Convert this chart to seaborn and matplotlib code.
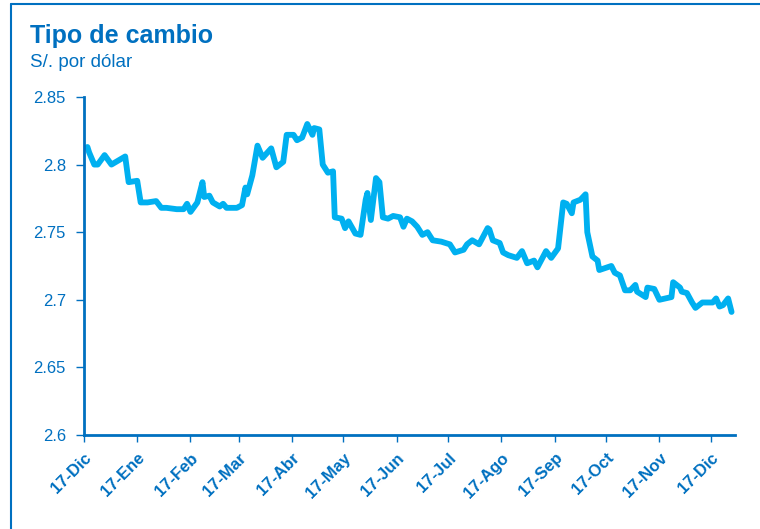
import pandas as pd
import matplotlib
matplotlib.use("Agg")
import matplotlib.pyplot as plt
import seaborn as sns
from matplotlib.lines import Line2D

# tipo de cambio
fechas = [
    "2016-12-19", "2016-12-20", "2016-12-23", "2016-12-25", "2016-12-29",
    "2017-01-02", "2017-01-06", "2017-01-10", "2017-01-12", "2017-01-17",
    "2017-01-19", "2017-01-23", "2017-01-28", "2017-01-31", "2017-02-03",
    "2017-02-09", "2017-02-13", "2017-02-15", "2017-02-17", "2017-02-21",
    "2017-02-24", "2017-02-25", "2017-02-28", "2017-03-02", "2017-03-06",
    "2017-03-08", "2017-03-10", "2017-03-16", "2017-03-19", "2017-03-21",
    "2017-03-22", "2017-03-25", "2017-03-28", "2017-03-31", "2017-04-05",
    "2017-04-08", "2017-04-12", "2017-04-14", "2017-04-18", "2017-04-20",
    "2017-04-23", "2017-04-26", "2017-04-29", "2017-04-30", "2017-05-03",
    "2017-05-05", "2017-05-08", "2017-05-11", "2017-05-12", "2017-05-16",
    "2017-05-18", "2017-05-20", "2017-05-24", "2017-05-27", "2017-05-30",
    "2017-05-31", "2017-06-02", "2017-06-05", "2017-06-07", "2017-06-09",
    "2017-06-12", "2017-06-15", "2017-06-19", "2017-06-21", "2017-06-23",
    "2017-06-26", "2017-06-29", "2017-07-02", "2017-07-05", "2017-07-08",
    "2017-07-13", "2017-07-18", "2017-07-21", "2017-07-26", "2017-07-28",
    "2017-07-31", "2017-08-04", "2017-08-09", "2017-08-10", "2017-08-12",
    "2017-08-16", "2017-08-18", "2017-08-21", "2017-08-26", "2017-08-29",
    "2017-09-01", "2017-09-05", "2017-09-07", "2017-09-12", "2017-09-15",
    "2017-09-19", "2017-09-22", "2017-09-24", "2017-09-27", "2017-09-28",
    "2017-10-02", "2017-10-05", "2017-10-06", "2017-10-09", "2017-10-12",
    "2017-10-13", "2017-10-20", "2017-10-22", "2017-10-25", "2017-10-28",
    "2017-10-31", "2017-11-03", "2017-11-04", "2017-11-09", "2017-11-10",
    "2017-11-14", "2017-11-17", "2017-11-24", "2017-11-25", "2017-11-29",
    "2017-11-30", "2017-12-03", "2017-12-06", "2017-12-08", "2017-12-12",
    "2017-12-18", "2017-12-20", "2017-12-22", "2017-12-24", "2017-12-27",
    "2017-12-29",
]
tipo_cambio = [
    2.813, 2.809, 2.800, 2.800, 2.807,
    2.800, 2.803, 2.806, 2.787, 2.788,
    2.772, 2.772, 2.773, 2.768, 2.768,
    2.767, 2.767, 2.771, 2.765, 2.772,
    2.787, 2.776, 2.777, 2.772, 2.769,
    2.771, 2.768, 2.768, 2.770, 2.783,
    2.778, 2.792, 2.814, 2.805, 2.812,
    2.798, 2.802, 2.822, 2.822, 2.818,
    2.820, 2.830, 2.822, 2.827, 2.826,
    2.800, 2.794, 2.795, 2.761, 2.760,
    2.753, 2.758, 2.749, 2.748, 2.774,
    2.779, 2.759, 2.790, 2.787, 2.761,
    2.760, 2.762, 2.761, 2.754, 2.760,
    2.758, 2.754, 2.748, 2.750, 2.744,
    2.743, 2.741, 2.735, 2.737, 2.741,
    2.744, 2.741, 2.753, 2.752, 2.744,
    2.742, 2.735, 2.733, 2.731, 2.736,
    2.727, 2.729, 2.724, 2.736, 2.731,
    2.738, 2.772, 2.771, 2.764, 2.772,
    2.774, 2.778, 2.750, 2.732, 2.729,
    2.722, 2.725, 2.720, 2.718, 2.707,
    2.707, 2.711, 2.706, 2.702, 2.709,
    2.708, 2.700, 2.702, 2.713, 2.709,
    2.706, 2.705, 2.698, 2.694, 2.698,
    2.698, 2.701, 2.695, 2.696, 2.701,
    2.691,
]
y_ticks = [2.6, 2.65, 2.7, 2.75, 2.8, 2.85]
meses = ["Dic", "Ene", "Feb", "Mar", "Abr", "May", "Jun",
         "Jul", "Ago", "Sep", "Oct", "Nov", "Dic"]

df = pd.DataFrame({"fecha": pd.to_datetime(fechas), "tc": tipo_cambio})

sns.set_style("white")
plt.rcParams["font.family"] = ["Liberation Sans", "DejaVu Sans"]

azul = "#0070C0"
celeste = "#00B0F0"

fig = plt.figure(figsize=(7.6, 5.29), dpi=100)
ax = fig.add_axes([0.1105, 0.1777, 0.8566, 0.639])

sns.lineplot(data=df, x="fecha", y="tc", ax=ax, color=celeste,
             linewidth=4.2, solid_joinstyle="round", solid_capstyle="round")

ax.set_ylim(2.6, 2.85)
ax.set_yticks(y_ticks)
ax.set_yticklabels([f"{v:g}" for v in y_ticks])
ax.set_xlim(pd.Timestamp("2016-12-17"), pd.Timestamp("2017-12-31"))
xt = pd.date_range("2016-12-01", periods=13, freq="MS") + pd.Timedelta(days=16)
ax.set_xticks(xt)
ax.set_xticklabels([f"17-{m}" for m in meses], rotation=45, ha="right",
                   rotation_mode="anchor", fontweight="bold", fontsize=12,
                   color=azul)
ax.tick_params(axis="y", colors=azul, labelsize=12, length=6, width=1,
               direction="out", pad=7, left=True)
ax.tick_params(axis="x", colors=azul, length=5, width=1, direction="out",
               pad=6, bottom=True)
ax.set_xlabel("")
ax.set_ylabel("")

for s in ["top", "right"]:
    ax.spines[s].set_visible(False)
for s in ["left", "bottom"]:
    ax.spines[s].set_color(azul)
    ax.spines[s].set_linewidth(2)

fig.text(30 / 760, 1 - 43 / 529, "Tipo de cambio", fontsize=18,
         fontweight="bold", color=azul, va="baseline")
fig.text(30 / 760, 1 - 67 / 529, "S/. por dólar", fontsize=13.5,
         color=azul, va="baseline")

# marco
fig.add_artist(Line2D([11 / 760, 1], [1 - 4 / 529, 1 - 4 / 529],
                      transform=fig.transFigure, color=azul, linewidth=1.5))
fig.add_artist(Line2D([11 / 760, 11 / 760], [0, 1 - 4 / 529],
                      transform=fig.transFigure, color=azul, linewidth=1.5))

fig.savefig("out.png", dpi=100)
